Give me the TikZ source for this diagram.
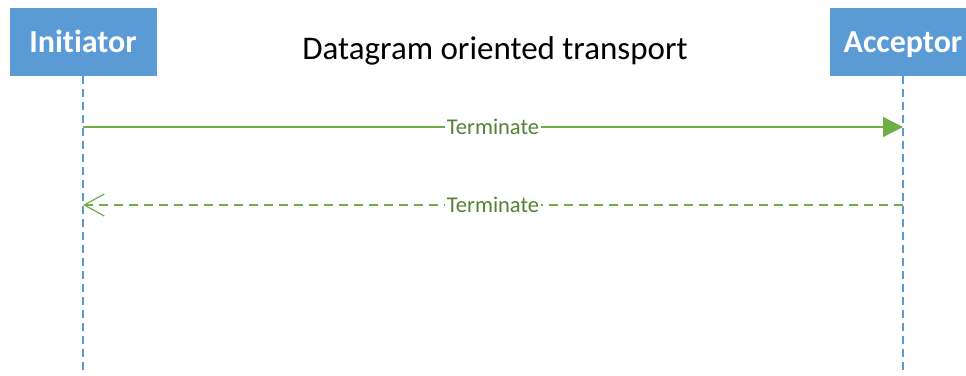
\documentclass[tikz,border=0pt]{standalone}
\usepackage{fontspec}
\setmainfont{Carlito}[Ligatures=NoCommon]
\usepackage{xcolor}
\usetikzlibrary{positioning,arrows.meta}
\definecolor{boxblue}{HTML}{5B9BD5}
\definecolor{msggreen}{HTML}{70AD47}
\definecolor{txtgreen}{HTML}{548235}

\begin{document}
\begin{tikzpicture}[x=1pt,y=-1pt,
    actor/.style={fill=boxblue,text=white,font=\fontsize{32}{36}\selectfont\bfseries,
      minimum width=147pt,minimum height=68pt,inner sep=0pt,text height=22pt,text depth=2pt},
    life/.style={boxblue,line width=1.3pt,dash pattern=on 8pt off 5pt},
    msg/.style={msggreen,line width=1.3pt},
    lbl/.style={fill=white,text=txtgreen,font=\fontsize{22.5}{26}\selectfont,inner sep=1.5pt}]
    \useasboundingbox (0,0) rectangle (966,375);

    \node[actor] (ini) at (83,42) {Initiator};
    \node[actor] (acc) at (903,42) {Acceptor};
    \node[font=\fontsize{33}{38}\selectfont,anchor=base,inner sep=0pt] (title) at (495,59) {Datagram oriented transport};

    \coordinate (ie) at (83,375);
    \coordinate (ae) at (903,375);
    \draw[life] (ini.south) -- (ie);
    \draw[life] (acc.south) -- (ae);

    \coordinate (i1) at (83,127);
    \coordinate (a1) at (903,127);
    \coordinate (i2) at (83,205);
    \coordinate (a2) at (903,205);

    \draw[msg,-{Triangle[length=20pt,width=20pt]}] (i1) -- node[lbl] (m1) {Terminate} (a1);
    \draw[msg,dash pattern=on 9pt off 6pt,-{Straight Barb[length=20pt,width=22pt,line width=1.2pt]}]
      (a2) -- node[lbl] (m2) {Terminate} (i2);
\end{tikzpicture}
\end{document}
